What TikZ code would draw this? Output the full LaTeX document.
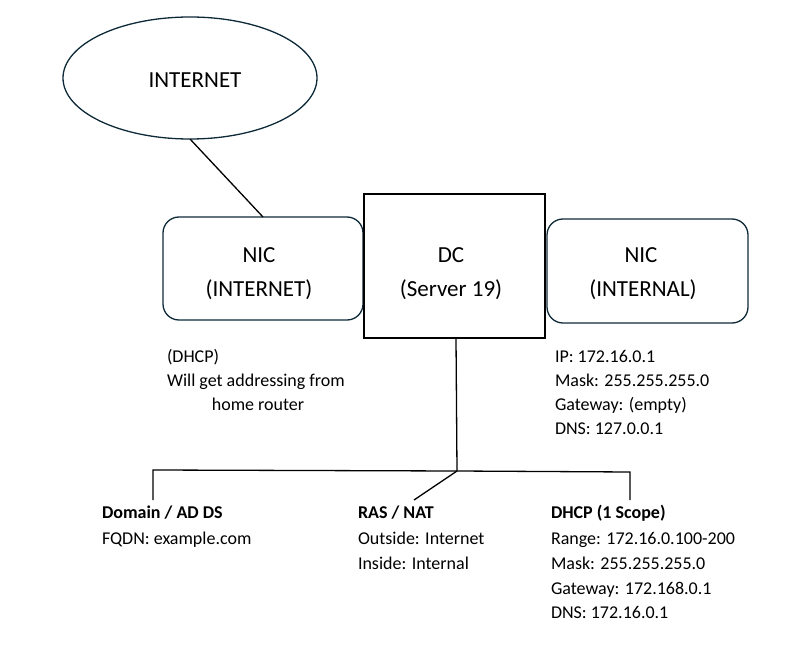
\documentclass[tikz,border=0pt]{standalone}
\usepackage{fontspec}
\setmainfont{Carlito}
\usetikzlibrary{shapes.geometric}
\definecolor{edge}{HTML}{0E2A38}
\tikzset{
  every node/.style={inner sep=0pt, outer sep=0pt},
  nicbox/.style={draw=edge, line width=1.3pt, rounded corners=16pt},
  dcbox/.style={draw=black, line width=1.8pt},
  wire/.style={draw=black, line width=1.3pt},
  big/.style={font=\fontsize{23}{27}\selectfont, align=center},
  small/.style={font=\fontsize{18}{24}\selectfont, anchor=base west},
  bsmall/.style={font=\bfseries\fontsize{18}{24}\selectfont, anchor=base west},
}
\begin{document}
\begin{tikzpicture}[x=1pt,y=-1pt]
\useasboundingbox (0,0) rectangle (803,652);
% ellipse
\node[draw=edge, line width=1.3pt, ellipse, minimum width=254pt, minimum height=122pt] (inet) at (190,78) {};
\node[big] (inettxt) at (195,80) {INTERNET};
% boxes
\draw[nicbox] (163,217) rectangle (363,320);
\coordinate (nicltop) at (263,217);
\draw[dcbox] (364,194) rectangle (545,338);
\coordinate (dcbot) at (456,338);
\draw[nicbox] (547,219) rectangle (748,323);
\node[big] (nicl1) at (259,255) {NIC};
\node[big] (nicl2) at (259,290) {(INTERNET)};
\node[big] (dc1) at (451,255) {DC};
\node[big] (dc2) at (451,290) {(Server 19)};
\node[big] (nicr1) at (641,255) {NIC};
\node[big] (nicr2) at (643,290) {(INTERNAL)};
% connectors
\draw[wire] (inet.south) -- (nicltop);
\coordinate (hub) at (457,471);
\coordinate (lend) at (153,470);
\coordinate (rend) at (630,472);
\coordinate (ldrop) at (153,500);
\coordinate (rdrop) at (630,500);
\coordinate (mdrop) at (414,500);
\draw[wire] (dcbot) -- (hub);
\draw[wire] (ldrop) -- (lend) -- (hub) -- (rend) -- (rdrop);
\draw[wire] (hub) -- (mdrop);
% texts
\node[small] (t1) at (167,362) {(DHCP)};
\node[small] (t2) at (167,386) {Will get addressing from};
\node[font=\fontsize{18}{24}\selectfont, anchor=base] (t3) at (258,410) {home router};
\node[small] (r1) at (555,362) {IP: 172.16.0.1};
\node[small] (r2) at (555,386) {Mask: 255.255.255.0};
\node[small] (r3) at (555,410) {Gateway: (empty)};
\node[small] (r4) at (555,434) {DNS: 127.0.0.1};
\node[bsmall] (d1) at (102,518) {Domain / AD DS};
\node[small] (d2) at (102,544) {FQDN: example.com};
\node[bsmall] (n1) at (358,518) {RAS / NAT};
\node[small] (n2) at (358,544) {Outside: Internet};
\node[small] (n3) at (358,569) {Inside: Internal};
\node[bsmall] (h1) at (551,518) {DHCP (1 Scope)};
\node[small] (h2) at (551,544) {Range: 172.16.0.100-200};
\node[small] (h3) at (551,569) {Mask: 255.255.255.0};
\node[small] (h4) at (551,594) {Gateway: 172.168.0.1};
\node[small] (h5) at (551,618) {DNS: 172.16.0.1};
\end{tikzpicture}
\end{document}
